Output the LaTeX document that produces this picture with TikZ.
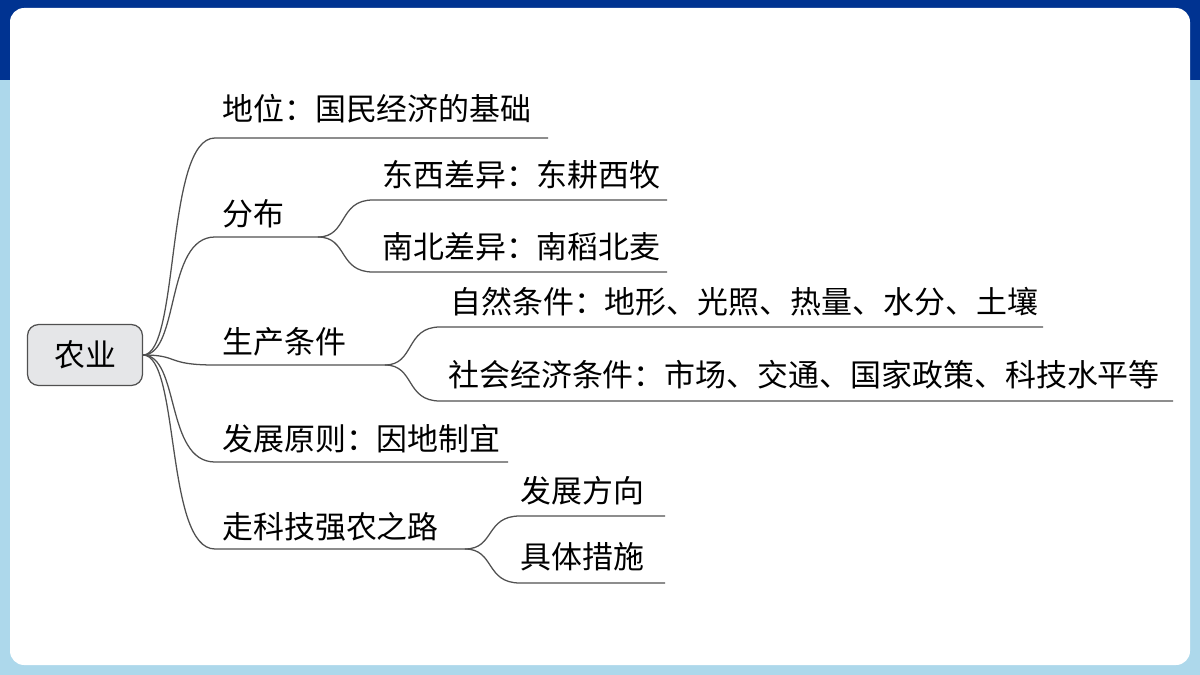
\documentclass[tikz,border=0pt]{standalone}
\usepackage{fontspec}
\setmainfont{Noto Sans CJK SC}
\definecolor{topblue}{RGB}{0,51,145}
\definecolor{sideblue}{RGB}{173,216,235}
\definecolor{rootgray}{RGB}{229,230,232}
\definecolor{linegray}{RGB}{80,80,80}
\tikzset{
  lbl/.style={anchor=south west, inner sep=0pt, font=\fontsize{22pt}{22pt}\selectfont},
  branch/.style={draw=linegray, line width=0.9pt},
}
\begin{document}
\begin{tikzpicture}[x=0.025cm,y=-0.025cm]
  % background
  \fill[sideblue] (0,0) rectangle (1200,675);
  \fill[topblue] (0,0) rectangle (1200,80);
  \fill[white, rounded corners=10] (10,8) rectangle (1190,665);
  \useasboundingbox (0,0) rectangle (1200,675);
  % root
  \node[draw=linegray, fill=rootgray, rounded corners=8, line width=0.9pt,
        minimum width=115*0.025cm, minimum height=61*0.025cm,
        font=\fontsize{22pt}{22pt}\selectfont] (root) at (85,355) {农业};
  % first level
  \coordinate (r) at (143,355);
  \node[lbl] (pos) at (222,123) {地位：国民经济的基础};
  \node[lbl] (dist) at (222,228) {分布};
  \node[lbl] (cond) at (222,356) {生产条件};
  \node[lbl] (prin) at (222,453) {发展原则：因地制宜};
  \node[lbl] (road) at (222,541) {走科技强农之路};
  \foreach \n/\y/\e in {pos/138/548, dist/237/318, cond/365/385, prin/462/508, road/549/465}
    \draw[branch] (r) .. controls (180,355) and (165,\y) .. (215,\y) -- (\e,\y);
  % second level
  \node[lbl] (ew) at (382,189) {东西差异：东耕西牧};
  \node[lbl] (ns) at (382,261) {南北差异：南稻北麦};
  \node[lbl] (nat) at (450,316) {自然条件：地形、光照、热量、水分、土壤};
  \node[lbl] (soc) at (448,389) {社会经济条件：市场、交通、国家政策、科技水平等};
  \node[lbl] (dir) at (520,505) {发展方向};
  \node[lbl] (mea) at (520,571) {具体措施};
  \foreach \x/\y/\u/\e in {318/237/200/667, 318/237/272/667, 385/365/327/1043,
                           385/365/401/1173, 465/549/516/665, 465/549/583/665}
    \draw[branch] (\x,\y) .. controls (\x+30,\y) and (\x+20,\u) .. (\x+55,\u) -- (\e,\u);
\end{tikzpicture}
\end{document}
